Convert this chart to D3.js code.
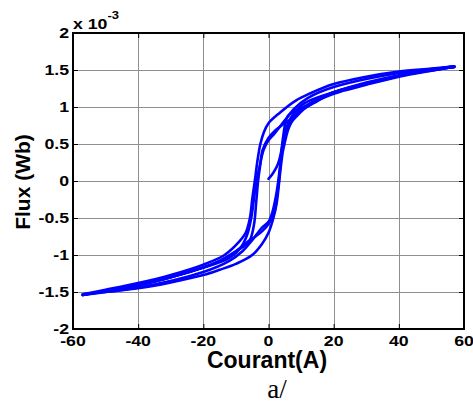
<!DOCTYPE html>
<html>
<head>
<meta charset="utf-8">
<script src="https://cdn.jsdelivr.net/npm/d3@7/dist/d3.min.js"></script>
<style>
  html, body { margin: 0; padding: 0; background: #fff; }
  svg { display: block; }
  .tick-label { font-family: "Liberation Sans", Arial, sans-serif; font-weight: bold; font-size: 15px; fill: #000; }
</style>
</head>
<body>
<div id="chart"></div>
<script>
// ---------------- DATA (current in A, flux in 1e-3 Wb) ----------------
const xTicks = [-60, -40, -20, 0, 20, 40, 60];
const yTicks = [-2, -1.5, -1, -0.5, 0, 0.5, 1, 1.5, 2];
const xTickLabels = ["-60", "-40", "-20", "0", "20", "40", "60"];
const yTickLabels = ["-2", "-1.5", "-1", "-0.5", "0", "0.5", "1", "1.5", "2"];

// initial magnetisation curve
const initCurrent = [0, 1, 2, 2.8, 3.4, 4.0, 4.6, 5.5, 7, 9.5, 14, 20, 30, 40, 50, 57];
const initFlux    = [0.03, 0.08, 0.15, 0.22, 0.3, 0.42, 0.55, 0.7, 0.82, 0.95, 1.08, 1.19, 1.31, 1.42, 1.5, 1.55];

// outer descending branch
const descOuterCurrent = [57, 50, 40, 30, 20, 12.6, 8.5, 3.4, 0, -1.5, -2.5, -3.3, -4.2, -5, -5.7, -7, -9, -13.5, -20, -30, -40, -50, -57];
const descOuterFlux    = [1.55, 1.52, 1.48, 1.41, 1.31, 1.18, 1.09, 0.92, 0.78, 0.65, 0.5, 0.3, 0, -0.25, -0.5, -0.7, -0.82, -1.0, -1.13, -1.27, -1.38, -1.47, -1.53];

// outer ascending branch
const ascOuterCurrent = [-57, -50, -40, -30, -20, -15, -10, -5, -2, 0, 1.5, 2.5, 3.3, 3.8, 4.4, 5, 6, 7, 8.5, 12.6, 20, 30, 40, 50, 57];
const ascOuterFlux    = [-1.54, -1.5, -1.45, -1.37, -1.27, -1.2, -1.12, -1.0, -0.85, -0.7, -0.5, -0.3, 0, 0.2, 0.4, 0.52, 0.69, 0.79, 0.87, 1.03, 1.18, 1.3, 1.41, 1.49, 1.54];

// second cycle (rounded knee)
const desc2Current = [57, 40, 20, 12, 8, 5, 2, 0, -1.5, -2.7, -3.7, -4.5, -5.3, -6.5, -8.5, -12, -20, -30, -40, -57];
const desc2Flux    = [1.54, 1.46, 1.27, 1.12, 0.98, 0.82, 0.65, 0.55, 0.42, 0.2, 0, -0.25, -0.5, -0.72, -0.9, -1.04, -1.17, -1.3, -1.4, -1.54];
const asc2Current  = [-57, -40, -20, -12, -8, -5, -2, 0, 1.2, 2.3, 3.0, 3.7, 4.4, 5.5, 7.5, 11, 20, 30, 40, 57];
const asc2Flux     = [-1.53, -1.44, -1.23, -1.08, -0.95, -0.8, -0.63, -0.55, -0.42, -0.2, 0, 0.25, 0.5, 0.72, 0.9, 1.05, 1.2, 1.33, 1.43, 1.55];

// third cycle (shifted transient branches)
const asc3Current  = [-57, -40, -30, -20, -15, -10, -6, -4.5, -3.8, -3.2, -2.6, -1.8, 0, 2, 4, 6.4, 10, 15, 20, 30, 40, 57];
const asc3Flux     = [-1.54, -1.41, -1.3, -1.17, -1.08, -0.95, -0.82, -0.6, -0.3, 0, 0.2, 0.42, 0.58, 0.68, 0.75, 0.82, 0.95, 1.08, 1.2, 1.31, 1.42, 1.54];
const desc3Current = [57, 40, 30, 20, 15, 10, 6, 4.5, 3.8, 3.2, 2.6, 1.8, 0, -2, -4, -6.4, -10, -15, -20, -30, -40, -57];
const desc3Flux    = [1.54, 1.42, 1.31, 1.2, 1.1, 0.98, 0.88, 0.6, 0.3, 0, -0.2, -0.42, -0.58, -0.68, -0.75, -0.82, -0.95, -1.08, -1.17, -1.3, -1.41, -1.54];

const branches = [
  [descOuterCurrent, descOuterFlux],
  [ascOuterCurrent, ascOuterFlux],
  [desc2Current, desc2Flux],
  [asc2Current, asc2Flux],
  [asc3Current, asc3Flux],
  [desc3Current, desc3Flux],
  [initCurrent, initFlux]
];

// ---------------- LAYOUT ----------------
const W = 473, H = 403;
const pL = 73, pR = 464, pT = 33, pB = 329;
const sx = 1.18; // horizontal stretch of the bold tick font

const svg = d3.select("#chart").append("svg").attr("width", W).attr("height", H);

const x = d3.scaleLinear().domain([-60, 60]).range([pL, pR]);
const y = d3.scaleLinear().domain([-2, 2]).range([pB, pT]);

// grid
const grid = svg.append("g");
grid.selectAll("line.vx").data(xTicks.slice(1, -1)).enter().append("line")
  .attr("x1", d => Math.round(x(d)) + 0.5).attr("x2", d => Math.round(x(d)) + 0.5)
  .attr("y1", pT).attr("y2", pB)
  .attr("stroke", "#8f8f8f").attr("stroke-width", 1);
grid.selectAll("line.hy").data(yTicks.slice(1, -1)).enter().append("line")
  .attr("y1", d => Math.round(y(d)) + 0.5).attr("y2", d => Math.round(y(d)) + 0.5)
  .attr("x1", pL).attr("x2", pR)
  .attr("stroke", "#8f8f8f").attr("stroke-width", 1);

// curves
const line = d3.line()
  .x(d => x(d[0])).y(d => y(d[1]))
  .curve(d3.curveCatmullRom.alpha(0.5));

svg.append("g").selectAll("path").data(branches).enter().append("path")
  .attr("d", b => line(b[0].map((c, i) => [c, b[1][i]])))
  .attr("fill", "none")
  .attr("stroke", "#0000ff")
  .attr("stroke-width", 2.6)
  .attr("stroke-linejoin", "round")
  .attr("stroke-linecap", "round");

// axes (inward ticks on all sides)
const tl = 5;
const axB = d3.axisBottom(x).tickValues(xTicks).tickSize(-tl).tickFormat("");
const axT = d3.axisTop(x).tickValues(xTicks).tickSize(-tl).tickFormat("");
const axL = d3.axisLeft(y).tickValues(yTicks).tickSize(-tl).tickFormat("");
const axR = d3.axisRight(y).tickValues(yTicks).tickSize(-tl).tickFormat("");
[[axB, `translate(0,${pB})`], [axT, `translate(0,${pT})`], [axL, `translate(${pL},0)`], [axR, `translate(${pR},0)`]]
  .forEach(([ax, tr]) => {
    const g = svg.append("g").attr("transform", tr).call(ax);
    g.select(".domain").remove();
    g.selectAll(".tick line").attr("stroke", "#000").attr("stroke-width", 1);
  });

// box
svg.append("rect").attr("x", pL).attr("y", pT)
  .attr("width", pR - pL).attr("height", pB - pT)
  .attr("fill", "none").attr("stroke", "#000").attr("stroke-width", 2);

// tick labels
svg.append("g").selectAll("text").data(xTicks).enter().append("text")
  .attr("class", "tick-label")
  .attr("transform", d => `translate(${x(d)},346) scale(${sx},1)`)
  .attr("text-anchor", "middle")
  .text((d, i) => xTickLabels[i]);

svg.append("g").selectAll("text").data(yTicks).enter().append("text")
  .attr("class", "tick-label")
  .attr("transform", d => `translate(69,${y(d) + 5}) scale(${sx},1)`)
  .attr("text-anchor", "end")
  .text((d, i) => yTickLabels[i]);

// exponent
const ex = svg.append("text").attr("class", "tick-label")
  .attr("transform", `translate(73,29) scale(${sx},1)`);
ex.append("tspan").text("x 10");
ex.append("tspan").attr("dy", -10).style("font-size", "11px").text("-3");

// axis labels
svg.append("text")
  .attr("x", 267).attr("y", 368)
  .attr("text-anchor", "middle")
  .style("font-family", "'Liberation Sans', Arial, sans-serif")
  .style("font-weight", "bold").style("font-size", "23px")
  .text("Courant(A)");

svg.append("text")
  .attr("transform", "translate(30,182) rotate(-90)")
  .attr("text-anchor", "middle")
  .style("font-family", "'Liberation Sans', Arial, sans-serif")
  .style("font-weight", "bold").style("font-size", "21px")
  .text("Flux (Wb)");

svg.append("text")
  .attr("x", 277).attr("y", 398)
  .attr("text-anchor", "middle")
  .style("font-family", "'Liberation Serif', 'Times New Roman', serif")
  .style("font-size", "27px")
  .text("a/");
</script>
</body>
</html>
